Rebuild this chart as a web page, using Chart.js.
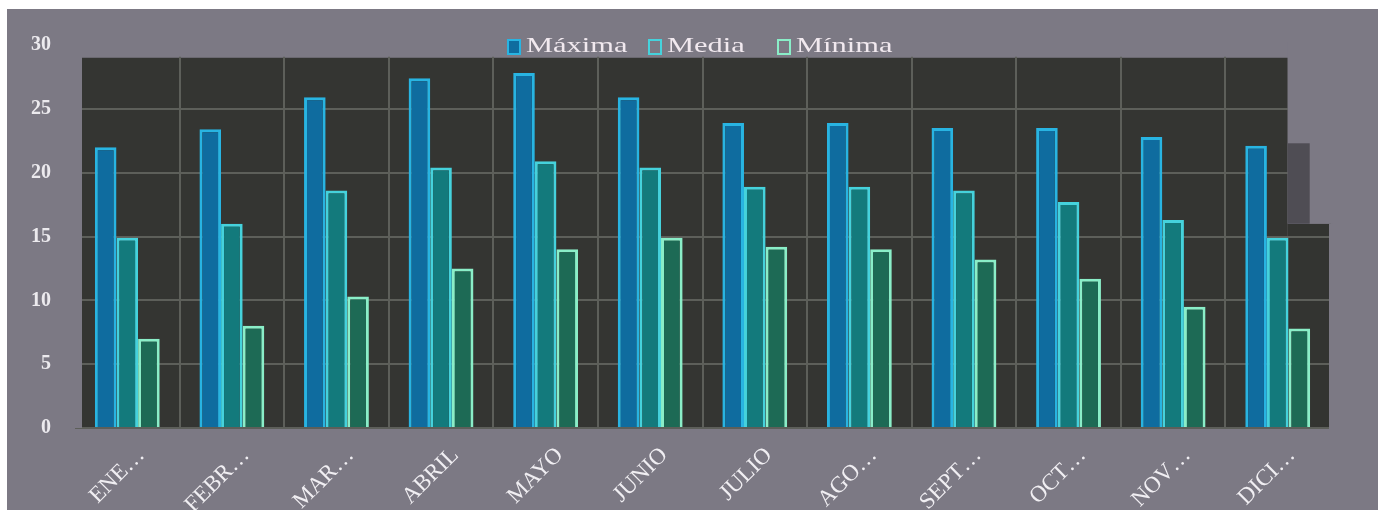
<!DOCTYPE html>
<html>
<head>
<meta charset="utf-8">
<script src="https://cdn.jsdelivr.net/npm/chart.js@4.4.0/dist/chart.umd.min.js"></script>
<style>
  html,body{margin:0;padding:0;background:#ffffff;overflow:hidden;width:1378px;height:510px;}
  #wrap{position:absolute;left:7px;top:9px;width:1371px;height:501px;background:#7c7984;overflow:hidden;}
  #cv{position:absolute;left:0;top:0;}
  .lgbox{position:absolute;top:30px;width:10px;height:12px;border:2px solid;z-index:2;}
  .lgtxt{position:absolute;top:24px;font-family:"Liberation Serif",serif;font-size:21px;line-height:24px;color:#f1e9ef;transform:scaleX(1.45);transform-origin:0 0;white-space:nowrap;z-index:2;}
</style>
</head>
<body>
<div id="wrap">
  <canvas id="cv"></canvas>
</div>
<script>
const categories = ["ENE…","FEBR…","MAR…","ABRIL","MAYO","JUNIO","JULIO","AGO…","SEPT…","OCT…","NOV…","DICI…"];
const seriesNames = ["Máxima","Media","Mínima"];
const maxima = [22, 23.4, 25.9, 27.4, 27.8, 25.9, 23.9, 23.9, 23.5, 23.5, 22.8, 22.1];
const media  = [14.9, 16, 18.6, 20.4, 20.9, 20.4, 18.9, 18.9, 18.6, 17.7, 16.3, 14.9];
const minima = [7, 8, 10.3, 12.5, 14, 14.9, 14.2, 14, 13.2, 11.7, 9.5, 7.8];
const yTicks = [0, 5, 10, 15, 20, 25, 30];

const fills   = ["#0f6c9f", "#137a7c", "#1d6a55"];
const borders = ["#28b4e2", "#45d2dc", "#8aeec8"];
const pageGrey = "#7c7984";
const legendX = [500, 641, 770]; // left of each legend box (wrap coords)

// HTML legend
const wrap = document.getElementById('wrap');
seriesNames.forEach((n, i) => {
  const b = document.createElement('div'); b.className = 'lgbox';
  b.style.left = legendX[i] + 'px';
  b.style.borderColor = borders[i]; b.style.background = i === 0 ? fills[i] : 'transparent';
  const t = document.createElement('div'); t.className = 'lgtxt';
  t.style.left = (legendX[i] + 19) + 'px';
  t.textContent = n;
  wrap.appendChild(b); wrap.appendChild(t);
});

const W = 1371, H = 540;
const cv = document.getElementById('cv');
cv.width = W; cv.height = H; cv.style.width = W + 'px'; cv.style.height = H + 'px';

function geom(chart) {
  const {chartArea: a, scales: {x, y}} = chart;
  return {
    a,
    top: y.getPixelForValue(29),
    zero: y.getPixelForValue(0),
    cut: x.getPixelForValue(11) + 10,
    t2: y.getPixelForValue(22.3),
    t3: y.getPixelForValue(16)
  };
}

const plotBg = {
  id: 'plotBg',
  beforeDraw(chart) {
    const {ctx} = chart; const g = geom(chart);
    ctx.save();
    ctx.fillStyle = '#343532';
    ctx.fillRect(g.a.left + 7, g.top, g.cut - g.a.left - 7, g.zero - g.top);
    ctx.fillStyle = '#333431';
    ctx.fillRect(g.cut, g.t3, g.a.right - g.cut, g.zero - g.t3);
    ctx.restore();
  },
  beforeDatasetsDraw(chart) {
    const {ctx} = chart; const g = geom(chart);
    ctx.save();
    ctx.fillStyle = pageGrey;
    ctx.fillRect(g.a.left - 2, g.a.top - 3, g.a.right - g.a.left + 4, g.top - g.a.top + 2);
    ctx.fillRect(g.a.left - 2, g.a.top - 3, 9, g.zero - g.a.top + 3);
    ctx.fillRect(g.cut, g.a.top - 3, g.a.right - g.cut + 3, g.t3 - g.a.top + 3);
    ctx.fillRect(g.a.right - 1, g.t3, 4, g.zero - g.t3 + 1);
    ctx.fillStyle = '#4f4d54';
    ctx.fillRect(g.cut, g.t2, 22, g.t3 - g.t2);
    ctx.restore();
  }
};

new Chart(cv, {
  type: 'bar',
  data: {
    labels: categories,
    datasets: [maxima, media, minima].map((d, i) => ({
      label: seriesNames[i], data: d,
      backgroundColor: fills[i], borderColor: borders[i], borderWidth: 3,
      categoryPercentage: 0.62, barPercentage: 1.0
    }))
  },
  options: {
    responsive: false, animation: false,
    layout: {padding: {top: 35, right: 48, left: 0, bottom: 0}},
    plugins: {legend: {display: false}, tooltip: {enabled: false}},
    scales: {
      x: {
        grid: {color: '#5d5f5a', lineWidth: 2, drawTicks: false, offset: true},
        border: {display: false},
        ticks: {color: '#f0eef2', font: {family: 'Liberation Serif', size: 23}, minRotation: 45, maxRotation: 45, padding: 14, labelOffset: 14, autoSkip: false},
        afterFit(s) { s.height = 121; }
      },
      y: {
        min: 0, max: 30,
        afterBuildTicks(s) { s.ticks = yTicks.map(v => ({value: v})); },
        grid: {color: '#5d5f5a', lineWidth: 2, drawTicks: false},
        border: {display: false},
        ticks: {color: '#eceaee', font: {family: 'Liberation Serif', size: 20, weight: 'bold'}, padding: 24},
        afterFit(s) { s.width = 68; }
      }
    }
  },
  plugins: [plotBg]
});
</script>
</body>
</html>
